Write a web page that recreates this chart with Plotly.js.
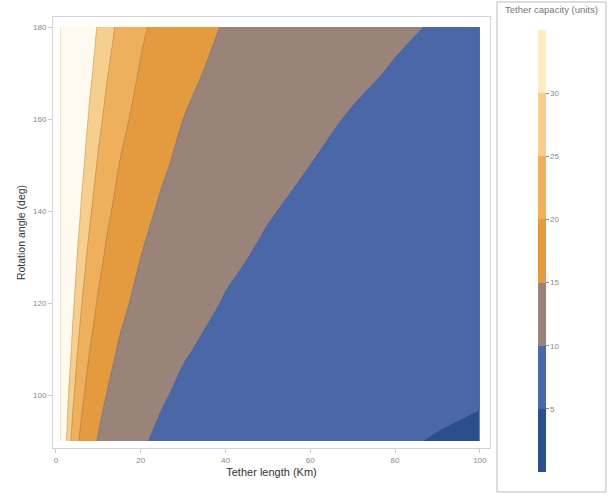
<!DOCTYPE html>
<html>
<head>
<meta charset="utf-8">
<script src="https://cdn.plot.ly/plotly-3.0.1.min.js"></script>
<style>html,body{margin:0;padding:0;background:#fff;}#chart{width:610px;height:496px;}</style>
</head>
<body>
<div id="chart"></div>
<script>
// Tether length (Km) grid
const tetherLength = [1, 2, 3, 4, 5, 6, 7, 8, 10, 12, 15, 20, 25, 30, 40, 50, 60, 70, 80, 90, 100];
// Rotation angle (deg) grid
const rotationAngle = [90, 100, 110, 120, 130, 140, 150, 160, 170, 180];
// Tether capacity (units), one row per angle
const z_90  = [46.4, 32.8, 26.8, 23.2, 20.7, 18.9, 17.5, 16.4, 14.7, 13.4, 12.0, 10.4, 9.3, 8.5, 7.3, 6.6, 6.0, 5.5, 5.2, 4.9, 4.6];
const z_100 = [51.5, 36.4, 29.7, 25.8, 23.0, 21.0, 19.5, 18.2, 16.3, 14.9, 13.3, 11.5, 10.3, 9.4, 8.1, 7.3, 6.6, 6.2, 5.8, 5.4, 5.2];
const z_110 = [56.7, 40.1, 32.7, 28.3, 25.3, 23.1, 21.4, 20.0, 17.9, 16.4, 14.6, 12.7, 11.3, 10.3, 9.0, 8.0, 7.3, 6.8, 6.3, 6.0, 5.7];
const z_120 = [61.8, 43.7, 35.7, 30.9, 27.6, 25.2, 23.4, 21.9, 19.5, 17.8, 16.0, 13.8, 12.4, 11.3, 9.8, 8.7, 8.0, 7.4, 6.9, 6.5, 6.2];
const z_130 = [67.0, 47.3, 38.7, 33.5, 29.9, 27.3, 25.3, 23.7, 21.2, 19.3, 17.3, 15.0, 13.4, 12.2, 10.6, 9.5, 8.6, 8.0, 7.5, 7.1, 6.7];
const z_140 = [72.1, 51.0, 41.6, 36.1, 32.2, 29.4, 27.3, 25.5, 22.8, 20.8, 18.6, 16.1, 14.4, 13.2, 11.4, 10.2, 9.3, 8.6, 8.1, 7.6, 7.2];
const z_150 = [77.3, 54.6, 44.6, 38.6, 34.5, 31.5, 29.2, 27.3, 24.4, 22.3, 19.9, 17.3, 15.5, 14.1, 12.2, 10.9, 10.0, 9.2, 8.6, 8.1, 7.7];
const z_160 = [82.4, 58.3, 47.6, 41.2, 36.8, 33.6, 31.1, 29.1, 26.1, 23.8, 21.3, 18.4, 16.5, 15.0, 13.0, 11.7, 10.6, 9.8, 9.2, 8.7, 8.2];
const z_170 = [87.6, 61.9, 50.6, 43.8, 39.2, 35.7, 33.1, 31.0, 27.7, 25.3, 22.6, 19.6, 17.5, 16.0, 13.8, 12.4, 11.3, 10.5, 9.8, 9.2, 8.8];
const z_180 = [92.7, 65.5, 53.5, 46.4, 41.5, 37.8, 35.0, 32.8, 29.3, 26.8, 23.9, 20.7, 18.5, 16.9, 14.7, 13.1, 12.0, 11.1, 10.4, 9.8, 9.3];
const xTicks = [0, 20, 40, 60, 80, 100];
const yTicks = [100, 120, 140, 160, 180];
const cbTicks = [5, 10, 15, 20, 25, 30];
const levels = [0, 5, 10, 15, 20, 25, 30, 35];
const bandColors = ['#2b4f8e', '#4a67a8', '#9a8479', '#e49b40', '#efb05e', '#f6cf8e', '#fffaf0'];
const barColors  = ['#2b4f8e', '#4a67a8', '#9a8479', '#e49b40', '#efb05e', '#f6cf8e', '#fbecc6'];

const zGrid = [z_90, z_100, z_110, z_120, z_130, z_140, z_150, z_160, z_170, z_180];
const n = bandColors.length - 1;
const contourScale = bandColors.map((c, i) => [i / n, c]);
// stepped scale for the colour bar (0..35 in bands of 5)
const barScale = [];
barColors.forEach((c, i) => {
  barScale.push([i / barColors.length, c]);
  barScale.push([(i + 1) / barColors.length, c]);
});

const FONT = 'Liberation Sans, Arial, sans-serif';

const contour = {
  type: 'contour',
  x: tetherLength,
  y: rotationAngle,
  z: zGrid,
  autocontour: false,
  contours: {start: 5, end: 30, size: 5, coloring: 'fill', showlines: true},
  line: {width: 0.6, color: 'rgba(90,70,50,0.45)', smoothing: 0.8},
  colorscale: contourScale,
  showscale: false,
  hoverinfo: 'skip'
};

const scaleTrace = {
  type: 'heatmap',
  x: tetherLength,
  y: rotationAngle,
  z: zGrid,
  zmin: levels[0], zmax: levels[levels.length - 1],
  colorscale: barScale,
  opacity: 0,
  hoverinfo: 'skip',
  colorbar: {
    thickness: 8, thicknessmode: 'pixels',
    len: 442, lenmode: 'pixels',
    x: 1.11, xanchor: 'left', xpad: 0,
    y: 0.457, yanchor: 'middle', ypad: 0,
    outlinewidth: 0,
    tickvals: cbTicks,
    ticks: 'outside', ticklen: 3, tickcolor: '#888',
    tickfont: {family: FONT, size: 8, color: '#888'},
    bgcolor: 'rgba(0,0,0,0)'
  }
};

const layout = {
  width: 610, height: 496,
  margin: {l: 53, r: 120, t: 17, b: 48, pad: 0},
  paper_bgcolor: '#ffffff',
  plot_bgcolor: '#ffffff',
  font: {family: FONT, color: '#444'},
  showlegend: false,
  xaxis: {
    range: [-0.7, 102.4],
    tickvals: xTicks,
    ticks: 'outside', ticklen: 4, tickcolor: '#ccc',
    tickfont: {family: FONT, size: 8, color: '#888'},
    showline: true, mirror: true, linecolor: '#cfd0dc', linewidth: 1,
    showgrid: false, zeroline: false,
    title: {text: 'Tether length (Km)', font: {family: FONT, size: 11, color: '#333'}, standoff: 4}
  },
  yaxis: {
    range: [88.5, 182.2],
    tickvals: yTicks,
    ticks: 'outside', ticklen: 4, tickcolor: '#ccc',
    tickfont: {family: FONT, size: 8, color: '#888'},
    showline: true, mirror: true, linecolor: '#d6d6d6', linewidth: 1,
    showgrid: false, zeroline: false,
    title: {text: 'Rotation angle (deg)', font: {family: FONT, size: 10.5, color: '#333'}, standoff: 5}
  },
  shapes: [{
    type: 'rect', xref: 'paper', yref: 'paper',
    x0: 1.016, x1: 1.2654, y0: -0.102, y1: 1.0348,
    line: {color: '#bbbbbb', width: 1}, fillcolor: 'rgba(0,0,0,0)', layer: 'below'
  }],
  annotations: [{
    text: 'Tether capacity (units)', xref: 'paper', yref: 'paper',
    x: 1.1407, y: 1.0, xanchor: 'center', yanchor: 'bottom', showarrow: false,
    font: {family: FONT, size: 9.5, color: '#777'}
  }]
};

Plotly.newPlot('chart', [scaleTrace, contour], layout, {displayModeBar: false, staticPlot: true});
</script>
</body>
</html>
